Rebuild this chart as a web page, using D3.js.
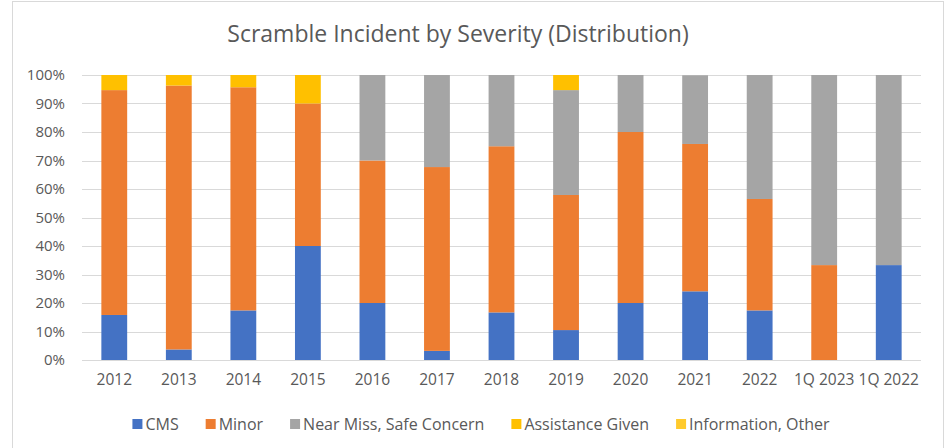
<!DOCTYPE html>
<html>
  <head>
    <meta charset="UTF-8">
    <title>Scramble Incident by Severity</title>
    <script src="https://cdn.jsdelivr.net/npm/d3@7"></script>
    <style>
      body { margin: 0; background: #fff; }
      text { font-family: "Open Sans", "Liberation Sans", sans-serif; fill: #595959; }
    </style>
  </head>
  <body>
    <svg width="950" height="448"></svg>
    <script>
      // data (percent of incidents per year)
      var categories = ["2012","2013","2014","2015","2016","2017","2018","2019","2020","2021","2022","1Q 2023","1Q 2022"];
      var cms        = [15.8, 3.7, 17.4, 40, 20, 3.2, 16.7, 10.5, 20, 24.1, 17.4, 0, 33.3];
      var minor      = [78.9, 92.6, 78.3, 50, 50, 64.5, 58.3, 47.4, 60, 51.7, 39.1, 33.3, 0];
      var nearMiss   = [0, 0, 0, 0, 30, 32.3, 25, 36.8, 20, 24.1, 43.5, 66.7, 66.7];
      var assistance = [5.3, 3.7, 4.3, 10, 0, 0, 0, 5.3, 0, 0, 0, 0, 0];
      var infoOther  = [0, 0, 0, 0, 0, 0, 0, 0, 0, 0, 0, 0, 0];
      var seriesNames = ["CMS", "Minor", "Near Miss, Safe Concern", "Assistance Given", "Information, Other"];
      var colors = ["#4472C4", "#ED7D31", "#A5A5A5", "#FFC000", "#FFCA2C"];
      var yTicks = [0, 10, 20, 30, 40, 50, 60, 70, 80, 90, 100];

      var svg = d3.select("svg");
      var marge = {top: 75, bottom: 88, left: 82, right: 29};
      var width = +svg.attr("width"), height = +svg.attr("height");
      var innerW = width - marge.left - marge.right;
      var innerH = height - marge.top - marge.bottom;

      // chart frame
      svg.append("rect")
        .attr("x", 12.5).attr("y", 1.5)
        .attr("width", 931).attr("height", 460)
        .attr("fill", "none").attr("stroke", "#D9D9D9");

      svg.append("text")
        .attr("x", 458).attr("y", 42)
        .attr("text-anchor", "middle")
        .style("font-size", "23px")
        .text("Scramble Incident by Severity (Distribution)");

      var g = svg.append("g")
        .attr("transform", "translate(" + marge.left + "," + marge.top + ")");

      var rows = categories.map(function(c, i) {
        return {cat: c, s0: cms[i], s1: minor[i], s2: nearMiss[i], s3: assistance[i], s4: infoOther[i]};
      });
      var stack = d3.stack().keys(["s0", "s1", "s2", "s3", "s4"]);
      var layers = stack(rows);

      var xScale = d3.scaleBand()
        .domain(categories)
        .range([0, innerW])
        .paddingInner(0.6)
        .paddingOuter(0.3);
      var yScale = d3.scaleLinear()
        .domain([0, 100])
        .range([innerH, 0]);

      // gridlines
      g.append("g")
        .selectAll("line")
        .data(yTicks)
        .enter().append("line")
        .attr("x1", 0).attr("x2", innerW)
        .attr("y1", function(d) { return Math.round(yScale(d)) + 0.5; })
        .attr("y2", function(d) { return Math.round(yScale(d)) + 0.5; })
        .attr("stroke", "#D9D9D9").attr("stroke-width", 1);

      // y labels
      var yAxis = d3.axisLeft(yScale)
        .tickValues(yTicks)
        .tickFormat(function(d) { return d + "%"; })
        .tickSize(0).tickPadding(17);
      var ya = g.append("g").call(yAxis);
      ya.select(".domain").remove();
      ya.selectAll("text").style("font-size", "15px").attr("fill", "#595959")
        .style("font-family", "\"Open Sans\", sans-serif");

      // bars
      g.selectAll(".layer")
        .data(layers)
        .enter().append("g")
        .attr("class", "layer")
        .attr("fill", function(d, i) { return colors[i]; })
        .selectAll("rect")
        .data(function(d) { return d; })
        .enter().append("rect")
        .attr("x", function(d) { return xScale(d.data.cat); })
        .attr("y", function(d) { return yScale(d[1]); })
        .attr("width", xScale.bandwidth())
        .attr("height", function(d) { return yScale(d[0]) - yScale(d[1]); });

      // x labels
      var xAxis = d3.axisBottom(xScale).tickSize(0).tickPadding(14);
      var xa = g.append("g")
        .attr("transform", "translate(0," + innerH + ")")
        .call(xAxis);
      xa.select(".domain").remove();
      xa.selectAll("text").style("font-size", "15.5px").attr("fill", "#595959")
        .style("font-family", "\"Open Sans\", sans-serif");

      // legend
      var legend = svg.append("g").attr("transform", "translate(0,424)");
      var items = legend.selectAll(".item")
        .data(seriesNames)
        .enter().append("g")
        .attr("class", "item");
      items.append("rect")
        .attr("y", -5).attr("width", 10).attr("height", 10)
        .attr("fill", function(d, i) { return colors[i]; });
      items.append("text")
        .attr("x", 13).attr("y", 5.5)
        .style("font-size", "16px")
        .text(function(d) { return d; });
      var pos = 0, starts = [];
      items.each(function() {
        starts.push(pos);
        pos += 13 + d3.select(this).select("text").node().getComputedTextLength() + 27;
      });
      var total = pos - 27;
      var x0 = 481 - total / 2;
      items.attr("transform", function(d, i) { return "translate(" + (x0 + starts[i]) + ",0)"; });
    </script>
  </body>
</html>
